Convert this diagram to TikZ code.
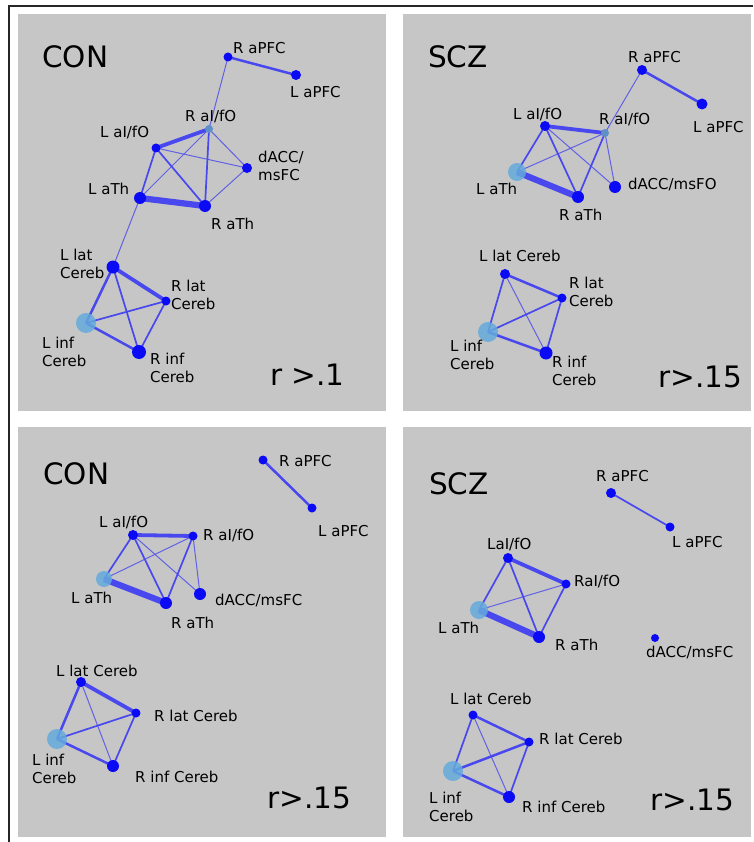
\documentclass[tikz,border=0pt]{standalone}
\usepackage{fontspec}
\setmainfont{DejaVu Sans}
\pgfdeclarelayer{panel}
\pgfdeclarelayer{links}
\pgfsetlayers{panel,links,main}

\definecolor{panelgray}{RGB}{198,198,198}
\definecolor{roiblue}{RGB}{10,10,245}
\definecolor{roilight}{RGB}{100,170,220}
\definecolor{roisteel}{RGB}{95,145,200}
\definecolor{linkblue}{RGB}{72,72,238}

\tikzset{
  roi/.style={circle, fill=roiblue, inner sep=0pt, minimum size=#1},
  roilt/.style={circle, fill=roilight, fill opacity=0.85, inner sep=0pt, minimum size=#1},
  roist/.style={circle, fill=roisteel, inner sep=0pt, minimum size=#1},
  lbl/.style={anchor=base west, inner sep=0pt, align=left, font=\fontsize{15}{18}\selectfont},
  bigtxt/.style={anchor=base west, inner sep=0pt, font=\fontsize{29.5}{34}\selectfont},
  lk1/.style={draw=linkblue, line width=1pt, draw opacity=0.8},
  lk2/.style={draw=linkblue, line width=1.7pt},
  lk3/.style={draw=linkblue, line width=2.5pt},
  lk4/.style={draw=linkblue, line width=3.8pt},
  lk5/.style={draw=linkblue, line width=6.2pt},
}

\begin{document}
\begin{tikzpicture}[x=1pt, y=-1pt]
\useasboundingbox (0,0) rectangle (753,842);

% page, outer frame and panels
\begin{pgfonlayer}{panel}
\fill[white] (0,0) rectangle (753,842);
\draw[line width=1.4pt, black!85] (753,6) -- (9,6) -- (9,842);
\fill[panelgray] (18,14) rectangle (386,411);
\fill[panelgray] (403,14) rectangle (751,411);
\fill[panelgray] (18,427) rectangle (386,837);
\fill[panelgray] (403,427) rectangle (751,837);
\end{pgfonlayer}

% ---------- panel 1: CON, r > .1 ----------
\node[roi=9]    (aRP) at (228,57) {};
\node[roi=10]   (aLP) at (296,75) {};
\node[roist=8]  (aRI) at (209,129) {};
\node[roi=9]    (aLI) at (156,148) {};
\node[roi=10]   (aDA) at (247,168) {};
\node[roi=12]   (aLT) at (140,198) {};
\node[roi=12]   (aRT) at (205,206) {};
\node[roi=13]   (aLL) at (113,267) {};
\node[roi=9]    (aRL) at (166,301) {};
\node[roilt=20] (aLF) at (86,323) {};
\node[roi=14]   (aRF) at (139,352) {};

\node[bigtxt] (aTitle) at (42,68) {CON};
\node[lbl] (aRPt) at (233,53.5) {R aPFC};
\node[lbl] (aLPt) at (290,97.5) {L aPFC};
\node[lbl] (aRIt) at (185,121.5) {R aI/fO};
\node[lbl] (aLIt) at (100,137.5) {L aI/fO};
\node[lbl] (aDAt) at (258,180.5) {dACC/\\msFC};
\node[lbl] (aLTt) at (88,194.5) {L aTh};
\node[lbl] (aRTt) at (211,229.5) {R aTh};
\node[lbl] (aLLt) at (60,278.5) {L lat\\Cereb};
\node[lbl] (aRLt) at (171,309.5) {R lat\\Cereb};
\node[lbl] (aLFt) at (42,366.5) {L inf\\Cereb};
\node[lbl] (aRFt) at (150,382.5) {R inf\\Cereb};
\node[bigtxt] (aThr) at (270,385.7) {r >.1};

% ---------- panel 2: SCZ, r > .15 ----------
\node[roi=10]   (bRP) at (642,70) {};
\node[roi=11]   (bLP) at (702,104) {};
\node[roist=8]  (bRI) at (605,133) {};
\node[roi=10]   (bLI) at (545,126) {};
\node[roilt=18] (bLT) at (517,172) {};
\node[roi=12]   (bRT) at (578,197) {};
\node[roi=12]   (bDA) at (615,187) {};
\node[roi=10]   (bLL) at (505,274) {};
\node[roi=9]    (bRL) at (562,298) {};
\node[roilt=20] (bLF) at (488,332) {};
\node[roi=13]   (bRF) at (546,353) {};

\node[bigtxt] (bTitle) at (428,68) {SCZ};
\node[lbl] (bRPt) at (628,62.5) {R aPFC};
\node[lbl] (bLPt) at (693,132.5) {L aPFC};
\node[lbl] (bLIt) at (513,119.5) {L aI/fO};
\node[lbl] (bRIt) at (599,124.5) {R aI/fO};
\node[lbl] (bLTt) at (476,194.5) {L aTh};
\node[lbl] (bRTt) at (559,220.5) {R aTh};
\node[lbl] (bDAt) at (628,189.5) {dACC/msFO};
\node[lbl] (bLLt) at (479,261.5) {L lat Cereb};
\node[lbl] (bRLt) at (569,306.5) {R lat\\Cereb};
\node[lbl] (bLFt) at (450,369.5) {L inf\\Cereb};
\node[lbl] (bRFt) at (552,385.5) {R inf\\Cereb};
\node[bigtxt] (bThr) at (658,387.7) {r>.15};

% ---------- panel 3: CON, r > .15 ----------
\node[roi=9]    (cRP) at (263,460) {};
\node[roi=9]    (cLP) at (312,508) {};
\node[roi=10]   (cLI) at (133,535) {};
\node[roi=9]    (cRI) at (193,536) {};
\node[roilt=16] (cLT) at (104,579) {};
\node[roi=12]   (cRT) at (166,603) {};
\node[roi=12]   (cDA) at (200,594) {};
\node[roi=10]   (cLL) at (81,682) {};
\node[roi=9]    (cRL) at (136,713) {};
\node[roilt=20] (cLF) at (57,739) {};
\node[roi=12]   (cRF) at (113,766) {};

\node[bigtxt] (cTitle) at (43,484) {CON};
\node[lbl] (cRPt) at (279,466.5) {R aPFC};
\node[lbl] (cLPt) at (318,536.5) {L aPFC};
\node[lbl] (cLIt) at (99,527.5) {L aI/fO};
\node[lbl] (cRIt) at (203,540.5) {R aI/fO};
\node[lbl] (cLTt) at (71,603.5) {L aTh};
\node[lbl] (cRTt) at (171,628.5) {R aTh};
\node[lbl] (cDAt) at (215,605.5) {dACC/msFC};
\node[lbl] (cLLt) at (56,676.5) {L lat Cereb};
\node[lbl] (cRLt) at (154,721.5) {R lat Cereb};
\node[lbl] (cLFt) at (32,783.5) {L inf\\Cereb};
\node[lbl] (cRFt) at (135,782.5) {R inf Cereb};
\node[bigtxt] (cThr) at (267,808.7) {r>.15};

% ---------- panel 4: SCZ, r > .15 ----------
\node[roi=10]   (dRP) at (611,493) {};
\node[roi=9]    (dLP) at (670,527) {};
\node[roi=10]   (dLI) at (508,558) {};
\node[roi=9]    (dRI) at (566,584) {};
\node[roilt=18] (dLT) at (479,610) {};
\node[roi=12]   (dRT) at (539,637) {};
\node[roi=8]    (dDA) at (655,638) {};
\node[roi=9]    (dLL) at (473,715) {};
\node[roi=9]    (dRL) at (529,742) {};
\node[roilt=20] (dLF) at (453,771) {};
\node[roi=12]   (dRF) at (509,797) {};

\node[bigtxt] (dTitle) at (429,494) {SCZ};
\node[lbl] (dRPt) at (596,481.5) {R aPFC};
\node[lbl] (dLPt) at (672,547.5) {L aPFC};
\node[lbl] (dLIt) at (487,549.5) {LaI/fO};
\node[lbl] (dRIt) at (574,586.5) {RaI/fO};
\node[lbl] (dLTt) at (438,633.5) {L aTh};
\node[lbl] (dRTt) at (555,650.5) {R aTh};
\node[lbl] (dDAt) at (646,657.5) {dACC/msFC};
\node[lbl] (dLLt) at (450,704.5) {L lat Cereb};
\node[lbl] (dRLt) at (539,744.5) {R lat Cereb};
\node[lbl] (dLFt) at (429,821.5) {L inf\\Cereb};
\node[lbl] (dRFt) at (522,812.5) {R inf Cereb};
\node[bigtxt] (dThr) at (650,810.7) {r>.15};

% ---------- connections (below the regions) ----------
\begin{pgfonlayer}{links}
% panel 1
\draw[lk3] (aRP.center) -- (aLP.center);
\draw[lk1] (aRP.center) -- (aRI.center);
\draw[lk4] (aRI.center) -- (aLI.center);
\draw[lk1] (aRI.center) -- (aLT.center);
\draw[lk2] (aRI.center) -- (aRT.center);
\draw[lk1] (aRI.center) -- (aDA.center);
\draw[lk1] (aLI.center) -- (aDA.center);
\draw[lk2] (aLI.center) -- (aLT.center);
\draw[lk2] (aLI.center) -- (aRT.center);
\draw[lk5] (aLT.center) -- (aRT.center);
\draw[lk1] (aRT.center) -- (aDA.center);
\draw[lk1] (aLT.center) -- (aLL.center);
\draw[lk4] (aLL.center) -- (aRL.center);
\draw[lk3] (aLL.center) -- (aLF.center);
\draw[lk2] (aLL.center) -- (aRF.center);
\draw[lk2] (aLF.center) -- (aRL.center);
\draw[lk3] (aLF.center) -- (aRF.center);
\draw[lk2] (aRL.center) -- (aRF.center);
% panel 2
\draw[lk3] (bRP.center) -- (bLP.center);
\draw[lk1] (bRP.center) -- (bRI.center);
\draw[lk4] (bLI.center) -- (bRI.center);
\draw[lk2] (bLI.center) -- (bLT.center);
\draw[lk2] (bLI.center) -- (bRT.center);
\draw[lk1] (bLI.center) -- (bDA.center);
\draw[lk1] (bRI.center) -- (bLT.center);
\draw[lk2] (bRI.center) -- (bRT.center);
\draw[lk1] (bRI.center) -- (bDA.center);
\draw[lk5] (bLT.center) -- (bRT.center);
\draw[lk3] (bLL.center) -- (bRL.center);
\draw[lk2] (bLL.center) -- (bLF.center);
\draw[lk1] (bLL.center) -- (bRF.center);
\draw[lk2] (bLF.center) -- (bRL.center);
\draw[lk3] (bLF.center) -- (bRF.center);
\draw[lk2] (bRL.center) -- (bRF.center);
% panel 3
\draw[lk3] (cRP.center) -- (cLP.center);
\draw[lk4] (cLI.center) -- (cRI.center);
\draw[lk2] (cLI.center) -- (cLT.center);
\draw[lk2] (cLI.center) -- (cRT.center);
\draw[lk1] (cLI.center) -- (cDA.center);
\draw[lk1] (cRI.center) -- (cLT.center);
\draw[lk2] (cRI.center) -- (cRT.center);
\draw[lk1] (cRI.center) -- (cDA.center);
\draw[lk5] (cLT.center) -- (cRT.center);
\draw[lk4] (cLL.center) -- (cRL.center);
\draw[lk3] (cLL.center) -- (cLF.center);
\draw[lk1] (cLL.center) -- (cRF.center);
\draw[lk2] (cLF.center) -- (cRL.center);
\draw[lk3] (cLF.center) -- (cRF.center);
\draw[lk2] (cRL.center) -- (cRF.center);
% panel 4
\draw[lk2] (dRP.center) -- (dLP.center);
\draw[lk4] (dLI.center) -- (dRI.center);
\draw[lk2] (dLI.center) -- (dLT.center);
\draw[lk2] (dLI.center) -- (dRT.center);
\draw[lk1] (dRI.center) -- (dLT.center);
\draw[lk2] (dRI.center) -- (dRT.center);
\draw[lk5] (dLT.center) -- (dRT.center);
\draw[lk3] (dLL.center) -- (dRL.center);
\draw[lk2] (dLL.center) -- (dLF.center);
\draw[lk1] (dLL.center) -- (dRF.center);
\draw[lk3] (dLF.center) -- (dRL.center);
\draw[lk3] (dLF.center) -- (dRF.center);
\draw[lk2] (dRL.center) -- (dRF.center);
\end{pgfonlayer}
\end{tikzpicture}
\end{document}
